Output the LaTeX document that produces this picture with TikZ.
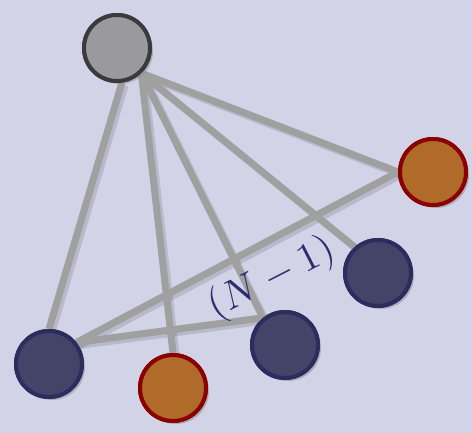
\documentclass[tikz,border=0pt]{standalone}
\usetikzlibrary{shadows}
\definecolor{bgc}{RGB}{211,211,232}
\definecolor{navyf}{RGB}{68,68,104}
\definecolor{navyb}{RGB}{44,44,94}
\definecolor{orgf}{RGB}{176,106,42}
\definecolor{orgb}{RGB}{139,0,0}
\definecolor{grayf}{RGB}{154,154,158}
\definecolor{grayb}{RGB}{58,58,58}
\definecolor{edgec}{RGB}{160,160,160}
\definecolor{labc}{RGB}{45,45,110}
\tikzset{
  vert/.style={circle,minimum size=66pt,line width=4pt,inner sep=0pt,
    drop shadow={opacity=0.25,shadow xshift=3pt,shadow yshift=-3pt}},
  navyv/.style={vert,draw=navyb,fill=navyf},
  orgv/.style={vert,draw=orgb,fill=orgf},
  grayv/.style={vert,draw=grayb,fill=grayf},
  edg/.style={draw=edgec,line width=7pt},
  edgshadow/.style={draw=black,opacity=0.12,line width=7pt,transform canvas={xshift=3pt,yshift=-3pt}}
}
\begin{document}
\begin{tikzpicture}[x=1pt,y=-1pt]
\fill[bgc] (0,0) rectangle (472,433);
\useasboundingbox (0,0) rectangle (472,433);
\node[grayv] (top) at (117,48) {};
\node[orgv] (o1) at (433,172) {};
\node[navyv] (n1) at (378,273) {};
\node[navyv] (n2) at (285,345) {};
\node[orgv] (o2) at (173,388) {};
\node[navyv] (n3) at (49,364) {};
% edge shadows
\foreach \a/\b in {top.-82/n3.north, top.-46/o2.north, top.-46/n2.129, top.-46/n1.132, top.-46/o1.west, n3.38/o1.west, n3.38/n2.129}{
  \path[edgshadow] (\a) -- (\b);
}
% edges
\foreach \a/\b in {top.-82/n3.north, top.-46/o2.north, top.-46/n2.129, top.-46/n1.132, top.-46/o1.west, n3.38/o1.west, n3.38/n2.129}{
  \path[edg] (\a) -- (\b);
}
% vertices drawn again above the edges
\node[grayv] at (top) {};
\node[orgv] at (o1) {};
\node[navyv] at (n1) {};
\node[navyv] at (n2) {};
\node[orgv] at (o2) {};
\node[navyv] at (n3) {};
\node[text=labc,rotate=27,inner sep=0pt] (lab) at (272,279) {\scalebox{4}{$(N-1)$}};
\end{tikzpicture}
\end{document}
